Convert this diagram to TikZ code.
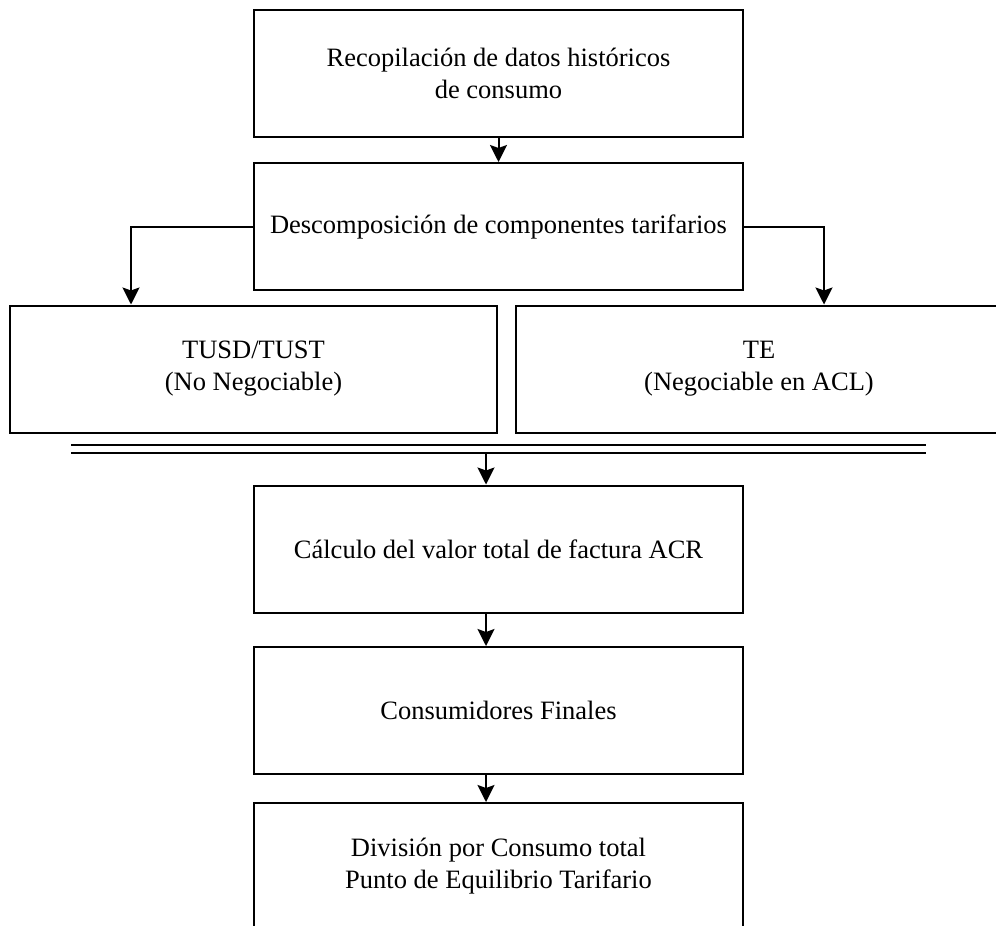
\documentclass[tikz,border=0pt]{standalone}
\usepackage{fontspec}
\setmainfont{Liberation Serif}
\usetikzlibrary{arrows.meta}
\begin{document}
\begin{tikzpicture}[x=1pt,y=-1pt,
  box/.style={draw, line width=2pt, inner sep=0pt, minimum width=489pt,
    minimum height=127pt, align=center,
    font=\fontsize{26.5}{32}\selectfont},
  halfbox/.style={box, minimum width=487pt},
  flow/.style={line width=2pt, -{Stealth[length=17pt,width=17pt,inset=3pt]}},
  rail/.style={line width=2pt}]
\clip (0,0) rectangle (996,926);
\fill[white] (0,0) rectangle (996,926);

% main column
\node[box] (hist) at (498.5,73.5) {Recopilación de datos históricos\\de consumo};
\node[box] (desc) at (498.5,226.5) {Descomposición de componentes tarifarios};

% the two tariff components
\node[halfbox] (tusd) at (253.5,369) {TUSD/TUST\\(No Negociable)};
\node[halfbox, minimum width=486pt] (te) at (759,369) {TE\\(Negociable en ACL)};

% lower column
\node[box] (calc) at (498.5,549) {Cálculo del valor total de factura ACR};
\node[box] (cons) at (498.5,710.5) {Consumidores Finales};
\node[box] (div) at (498.5,866.5) {División por Consumo total\\Punto de Equilibrio Tarifario};

% double rule joining both components
\coordinate (railAL) at (71,445);
\coordinate (railAR) at (926,445);
\coordinate (railBL) at (71,453);
\coordinate (railBR) at (926,453);
\draw[rail] (railAL) -- (railAR);
\draw[rail] (railBL) -- (railBR);
\coordinate (axis) at (486,453);

% connectors
\draw[flow] (hist.south) -- (desc.north);
\draw[flow] (desc.west) -| (tusd.north -| 131,0);
\draw[flow] (desc.east) -| (te.north -| 824,0);
\draw[flow] (axis) -- (calc.north -| axis);
\draw[flow] (calc.south -| axis) -- (cons.north -| axis);
\draw[flow] (cons.south -| axis) -- (div.north -| axis);
\end{tikzpicture}
\end{document}
